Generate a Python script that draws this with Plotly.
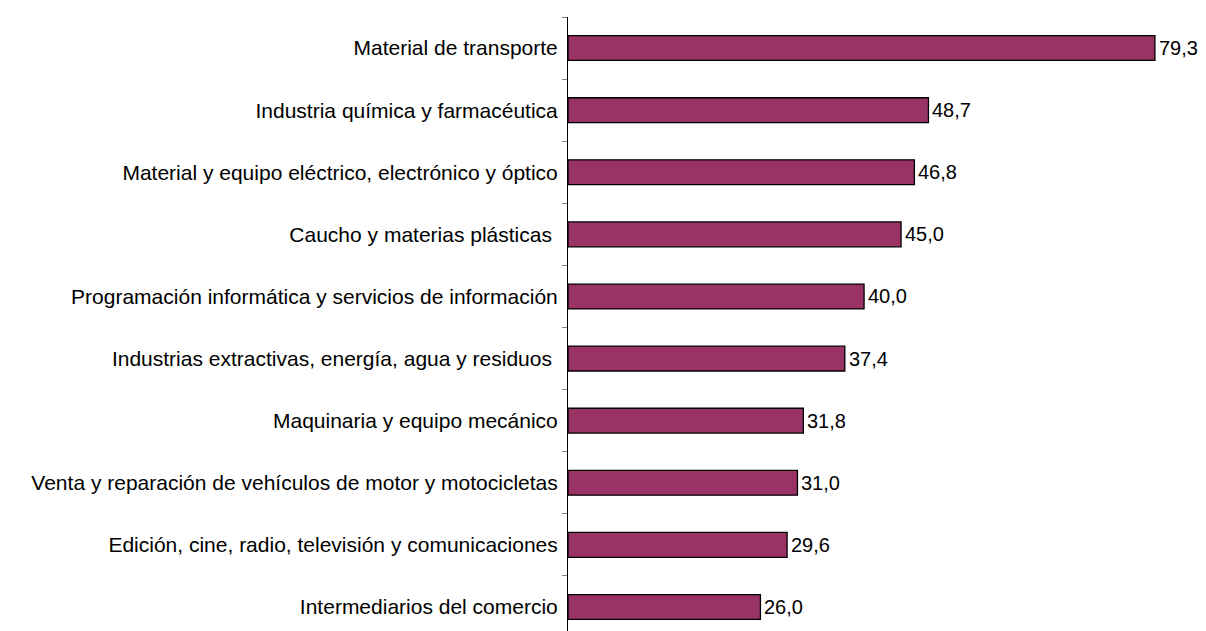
import plotly.graph_objects as go

categories = [
    "Material de transporte",
    "Industria química y farmacéutica",
    "Material y equipo eléctrico, electrónico y óptico",
    "Caucho y materias plásticas\u00a0",
    "Programación informática y servicios de información",
    "Industrias extractivas, energía, agua y residuos\u00a0",
    "Maquinaria y equipo mecánico",
    "Venta y reparación de vehículos de motor y motocicletas",
    "Edición, cine, radio, televisión y comunicaciones",
    "Intermediarios del comercio",
]
values = [79.3, 48.7, 46.8, 45.0, 40.0, 37.4, 31.8, 31.0, 29.6, 26.0]
value_labels = [f"{v:.1f}".replace(".", ",") for v in values]

FONT = "Liberation Sans, Arial, sans-serif"
FS = 21

fig = go.Figure(
    go.Bar(
        x=values,
        y=categories,
        orientation="h",
        width=0.40,
        marker=dict(color="#993366", line=dict(color="#000000", width=1.3)),
        cliponaxis=False,
    )
)

for cat, v, lab in zip(categories, values, value_labels):
    fig.add_annotation(
        x=v, y=cat, xref="x", yref="y",
        text=lab, showarrow=False,
        xanchor="left", yanchor="middle", xshift=3, borderpad=0,
        font=dict(family=FONT, size=20, color="#000000"),
    )

fig.update_layout(
    width=1198,
    height=623,
    margin=dict(l=560, r=0, t=9, b=0, autoexpand=False),
    plot_bgcolor="#ffffff",
    paper_bgcolor="#ffffff",
    showlegend=False,
    font=dict(family=FONT, size=FS, color="#000000"),
)
fig.update_xaxes(
    range=[0, 86.2],
    visible=False,
    showgrid=False,
    zeroline=False,
)
fig.update_yaxes(
    type="category",
    categoryorder="array",
    categoryarray=categories,
    range=[9.387, -0.5],
    showline=True,
    linecolor="#000000",
    linewidth=1,
    ticks="outside",
    tickson="boundaries",
    ticklen=5,
    tickcolor="#808080",
    tickwidth=1,
    ticklabelstandoff=5,
    showgrid=False,
    tickfont=dict(family=FONT, size=FS, color="#000000"),
)

fig.write_html("out.html")
